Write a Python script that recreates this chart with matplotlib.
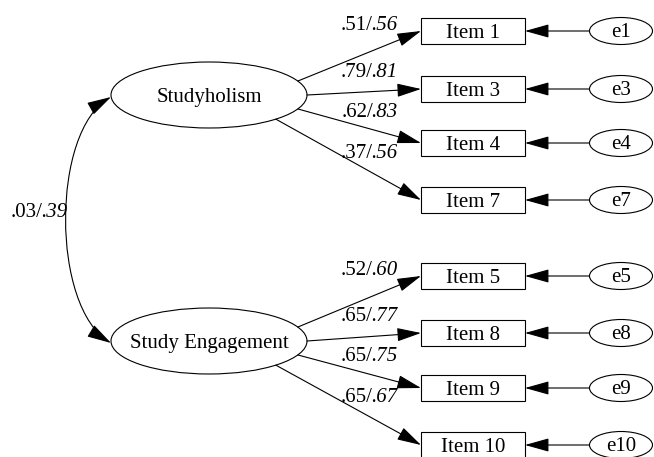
import numpy as np
import matplotlib.pyplot as plt
from matplotlib.patches import Ellipse, Rectangle, FancyArrowPatch
from matplotlib.path import Path

# Données du modèle (facteurs, items, erreurs, saturations)
facteurs = ["Studyholism", "Study Engagement"]
items = [["Item 1", "Item 3", "Item 4", "Item 7"],
         ["Item 5", "Item 8", "Item 9", "Item 10"]]
erreurs = [["e1", "e3", "e4", "e7"],
           ["e5", "e8", "e9", "e10"]]
sat_a = [[".51", ".79", ".62", ".37"],
         [".52", ".65", ".65", ".65"]]
sat_b = [[".56", ".81", ".83", ".56"],
         [".60", ".77", ".75", ".67"]]
cov_a, cov_b = ".03", ".39"

# Mise en page (en pixels)
fac_y = [95, 341]
fac_x, fac_w, fac_h = 209, 196, 66
item_y = [[31, 89, 143, 200], [276, 333, 388, 445]]
item_x0, item_w, item_h = 421, 104, 26
err_x, err_w, err_h = 621, 63, 27
lab_y = [[23, 70, 110, 151], [268, 314, 354, 395]]
lab_x = 373
angles = [-25, 0, 25, 47]  # points de départ sur l'ellipse (degrés)

police = "Liberation Serif"
fs = 15
dy = 7  # décalage ligne de base / centre des majuscules (px)
lw = 0.8
style_fl = 'head_length=1.5,head_width=0.42'
tete = dict(arrowstyle='-|>,' + style_fl, mutation_scale=10,
            color='black', lw=lw, shrinkA=0, shrinkB=0)

f = plt.figure(figsize=(6.54, 4.57), dpi=100)
ax = f.add_axes([0, 0, 1, 1])
ax.set_xlim(0, 654)
ax.set_ylim(457, 0)
ax.axis('off')


def texte(x, y, s, ha='center', **kw):
    ax.text(x, y + dy, s, ha=ha, va='baseline', fontsize=fs, family=police, **kw)


for k in range(2):
    # Variable latente
    ax.add_patch(Ellipse((fac_x, fac_y[k]), fac_w, fac_h, fill=False, lw=lw, color='black'))
    texte(fac_x, fac_y[k], facteurs[k])
    for i in range(4):
        y = item_y[k][i]
        # Boîte de l'item
        ax.add_patch(Rectangle((item_x0, y - item_h / 2), item_w, item_h, fill=False, lw=lw, color='black'))
        texte(item_x0 + item_w / 2, y, items[k][i])
        # Erreur
        ax.add_patch(Ellipse((err_x, y), err_w, err_h, fill=False, lw=lw, color='black'))
        texte(err_x, y - 1, erreurs[k][i])
        ax.annotate('', xy=(item_x0 + item_w, y), xytext=(err_x - err_w / 2, y), arrowprops=tete)
        # Flèche de saturation
        t = np.radians(angles[i])
        x0 = fac_x + fac_w / 2 * np.cos(t)
        y0 = fac_y[k] + fac_h / 2 * np.sin(t)
        ax.annotate('', xy=(item_x0, y), xytext=(x0, y0), arrowprops=tete)
        texte(lab_x, lab_y[k][i], sat_a[k][i] + "/", ha='right')
        texte(lab_x - 2, lab_y[k][i], sat_b[k][i], ha='left', style='italic')

# Covariance entre les deux facteurs
x_g = fac_x - fac_w / 2
chemin = Path([(x_g, fac_y[0] + 2), (51, fac_y[0] + 36), (51, fac_y[1] - 34), (x_g, fac_y[1] + 2)],
              [Path.MOVETO, Path.CURVE4, Path.CURVE4, Path.CURVE4])
ax.add_patch(FancyArrowPatch(path=chemin, arrowstyle='<|-|>,' + style_fl,
                             mutation_scale=10, color='black', lw=lw))
texte(43, 210, cov_a + "/", ha='right')
texte(41, 210, cov_b, ha='left', style='italic')

f.savefig("out.png", dpi=100)
